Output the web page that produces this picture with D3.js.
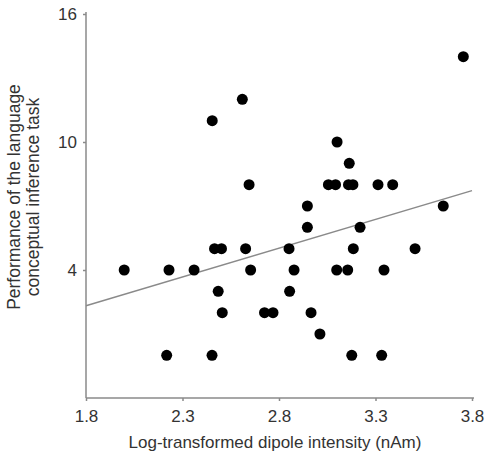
<!DOCTYPE html>
<html>
	<head>
		<meta http-equiv="Content-Type" content="text/html;charset=utf-8"/>
		<title>Dipole intensity vs performance</title>
		<script src="https://d3js.org/d3.v7.min.js"></script>
		<style type="text/css">
			body { margin: 0; background: #fff; }
			text { font-family: "Liberation Sans", Arial, sans-serif; fill: #333; }
			.dot { fill: #000; }
			.fit { stroke: #8a8a8a; stroke-width: 1.5; fill: none; }
			.axis path, .axis line { stroke: #8a8a8a; stroke-width: 1.5; }
		</style>
	</head>
	<body>
		<script type="text/javascript">

			//Scatter data (log dipole intensity, task score)
			var dipole = [2.218, 2.453, 3.177, 3.332,
				3.012,
				2.506, 2.725, 2.769, 2.966,
				2.485, 2.855,
				1.998, 2.230, 2.360, 2.653, 2.878, 3.099, 3.156, 3.344,
				2.466, 2.502, 2.627, 2.852, 3.185, 3.505,
				2.947, 3.220,
				2.947, 3.651,
				2.645, 3.056, 3.093, 3.160, 3.183, 3.313, 3.389,
				3.164,
				3.101,
				2.454,
				2.610,
				3.755];
			var score = [0, 0, 0, 0,
				1,
				2, 2, 2, 2,
				3, 3,
				4, 4, 4, 4, 4, 4, 4, 4,
				5, 5, 5, 5, 5, 5,
				6, 6,
				7, 7,
				8, 8, 8, 8, 8, 8, 8,
				9,
				10,
				11,
				12,
				14];

			//Regression line end points
			var fitX = [1.8, 3.8];
			var fitY = [2.32, 7.72];

			var xTicks = [1.8, 2.3, 2.8, 3.3, 3.8];
			var yTicks = [4, 10, 16];

			var data = dipole.map(function(d, i) { return { x: d, y: score[i] }; });

			var w = 485,
				h = 456;

			var xScale = d3.scaleLinear().domain([1.8, 3.8]).range([86, 472]);
			var yScale = d3.scaleLinear().domain([-2, 16]).range([398, 14]);

			var svg = d3.select("body").append("svg")
						.attr("width", w)
						.attr("height", h);

			//Axes
			svg.append("g")
				.attr("class", "axis")
				.attr("transform", "translate(0," + yScale(-2) + ")")
				.call(d3.axisBottom(xScale).tickValues(xTicks).tickSize(3).tickPadding(9)
					.tickFormat(d3.format(".1f")))
				.call(function(g) { g.select(".domain").attr("d", "M86,0H474"); })
				.selectAll("text")
				.style("font-size", "17px")
				.style("fill", "#333");

			svg.append("g")
				.attr("class", "axis")
				.attr("transform", "translate(" + xScale(1.8) + ",0)")
				.call(d3.axisLeft(yScale).tickValues(yTicks).tickSize(3).tickPadding(6))
				.call(function(g) { g.select(".domain").attr("d", "M0,12V398"); })
				.selectAll("text")
				.style("font-size", "17px")
				.style("fill", "#333");

			//Fit line
			svg.append("line")
				.attr("class", "fit")
				.attr("x1", xScale(fitX[0]))
				.attr("y1", yScale(fitY[0]))
				.attr("x2", xScale(fitX[1]))
				.attr("y2", yScale(fitY[1]));

			//Dots
			svg.selectAll("circle.dot")
				.data(data)
				.enter()
				.append("circle")
				.attr("class", "dot")
				.attr("cx", function(d) { return xScale(d.x); })
				.attr("cy", function(d) { return yScale(d.y); })
				.attr("r", 5.5);

			//Axis titles
			svg.append("text")
				.attr("x", 275)
				.attr("y", 448)
				.attr("text-anchor", "middle")
				.style("font-size", "17px")
				.text("Log-transformed dipole intensity (nAm)");

			var yTitle = svg.append("text")
				.attr("transform", "translate(20,197) rotate(-90)")
				.attr("text-anchor", "middle")
				.style("font-size", "17.5px");
			yTitle.append("tspan").attr("x", 0).attr("dy", 0).text("Performance of the language");
			yTitle.append("tspan").attr("x", 0).attr("dy", 19).text("conceptual inference task");

		</script>
	</body>
</html>
